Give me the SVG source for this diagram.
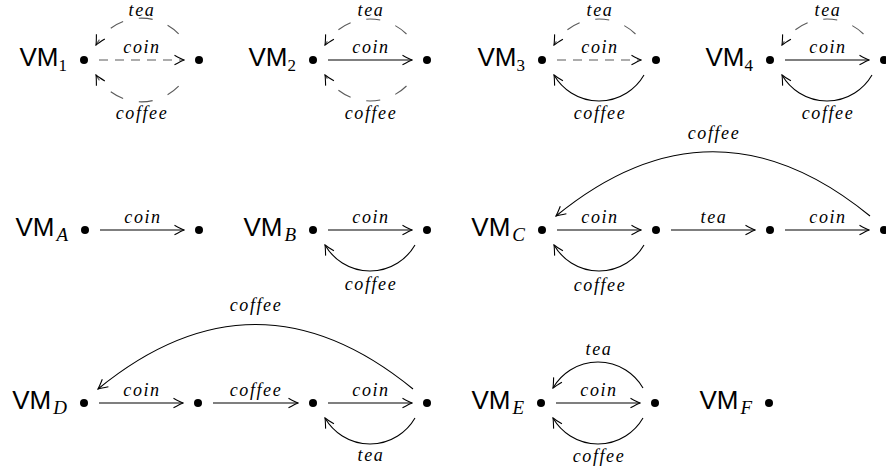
<svg xmlns="http://www.w3.org/2000/svg" width="886" height="471" viewBox="0 0 886 471">
<style>
.vm{font-family:'Liberation Sans',Arial,sans-serif;font-size:26px;fill:#000;text-anchor:end}
.sd{font-family:'Liberation Serif',serif;font-size:17px;font-style:normal}
.sl{font-family:'Liberation Serif',serif;font-size:19px;font-style:italic}
.lb{font-family:'Liberation Serif',serif;font-style:italic;font-size:18px;letter-spacing:1.6px;text-anchor:middle;fill:#000}
.dot{fill:#000}
.e{fill:none;stroke:#000;stroke-width:1.1;marker-end:url(#ah)}
.ds{fill:none;stroke:#5a5a5a;stroke-width:1.1;stroke-dasharray:9 7;marker-end:url(#ah)}
.da{fill:none;stroke:#5a5a5a;stroke-width:1.1;stroke-dasharray:14 16;stroke-dashoffset:16;marker-end:url(#ah)}
</style>
<defs>
<marker id="ah" markerUnits="userSpaceOnUse" viewBox="-11 -6 12 12" markerWidth="12" markerHeight="12" refX="0" refY="0" orient="auto">
<path d="M-9.5,-4.8 Q-3,-1.2 0,0 Q-3,1.2 -9.5,4.8" fill="none" stroke="#000" stroke-width="1.1"/>
</marker>
</defs>

<g id="connectors">
<path class="da" d="M187,45 A52,52 0 0 0 96,45"/>
<path class="ds" d="M99,60 H184"/>
<path class="da" d="M187,75 A52,52 0 0 1 96,75"/>
<path class="da" d="M415,45 A52,52 0 0 0 325,45"/>
<path class="e" d="M328,60 H412"/>
<path class="da" d="M415,75 A52,52 0 0 1 325,75"/>
<path class="da" d="M644,45 A52,52 0 0 0 554,45"/>
<path class="ds" d="M557,60 H641"/>
<path class="e" d="M644,75 A52,52 0 0 1 554,75"/>
<path class="da" d="M872,45 A52,52 0 0 0 782,45"/>
<path class="e" d="M785,60 H869"/>
<path class="e" d="M872,75 A52,52 0 0 1 782,75"/>
<path class="e" d="M100,230 H184"/>
<path class="e" d="M328,230 H412"/>
<path class="e" d="M415,245 A52,52 0 0 1 325,245"/>
<path class="e" d="M557,230 H641"/>
<path class="e" d="M671,230 H755"/>
<path class="e" d="M785,230 H869"/>
<path class="e" d="M644,245 A52,52 0 0 1 554,245"/>
<path class="e" d="M870,216 C765,130 661,130 556,216"/>
<path class="e" d="M99,403 H183"/>
<path class="e" d="M213,403 H298"/>
<path class="e" d="M328,403 H412"/>
<path class="e" d="M415,418 A52,52 0 0 1 325,418"/>
<path class="e" d="M413,389 C308,303 203,303 98,389"/>
<path class="e" d="M643,388 A52,52 0 0 0 553,388"/>
<path class="e" d="M556,403 H640"/>
<path class="e" d="M643,418 A52,52 0 0 1 553,418"/>
</g>

<g id="edge-labels">
<text class="lb" x="142" y="16">tea</text>
<text class="lb" x="142" y="53">coin</text>
<text class="lb" x="142" y="119">coffee</text>
<text class="lb" x="371" y="16">tea</text>
<text class="lb" x="371" y="53">coin</text>
<text class="lb" x="371" y="119">coffee</text>
<text class="lb" x="600" y="16">tea</text>
<text class="lb" x="600" y="53">coin</text>
<text class="lb" x="600" y="119">coffee</text>
<text class="lb" x="828" y="16">tea</text>
<text class="lb" x="828" y="53">coin</text>
<text class="lb" x="828" y="119">coffee</text>
<text class="lb" x="143" y="223">coin</text>
<text class="lb" x="371" y="223">coin</text>
<text class="lb" x="371" y="290">coffee</text>
<text class="lb" x="600" y="223">coin</text>
<text class="lb" x="714" y="223">tea</text>
<text class="lb" x="828" y="223">coin</text>
<text class="lb" x="600" y="291">coffee</text>
<text class="lb" x="714" y="139">coffee</text>
<text class="lb" x="142" y="396">coin</text>
<text class="lb" x="256" y="396">coffee</text>
<text class="lb" x="371" y="396">coin</text>
<text class="lb" x="371" y="461">tea</text>
<text class="lb" x="256" y="311">coffee</text>
<text class="lb" x="599" y="355">tea</text>
<text class="lb" x="599" y="396">coin</text>
<text class="lb" x="599" y="462">coffee</text>
</g>

<g id="vm1"><text class="vm" x="67" y="66">VM<tspan class="sd" dy="5">1</tspan></text><circle class="dot" cx="84" cy="60" r="4"/></g>
<g id="vm1-s1"><circle class="dot" cx="199" cy="60" r="4"/></g>
<g id="vm2"><text class="vm" x="296" y="66">VM<tspan class="sd" dy="5">2</tspan></text><circle class="dot" cx="313" cy="60" r="4"/></g>
<g id="vm2-s1"><circle class="dot" cx="427" cy="60" r="4"/></g>
<g id="vm3"><text class="vm" x="525" y="66">VM<tspan class="sd" dy="5">3</tspan></text><circle class="dot" cx="542" cy="60" r="4"/></g>
<g id="vm3-s1"><circle class="dot" cx="656" cy="60" r="4"/></g>
<g id="vm4"><text class="vm" x="753" y="66">VM<tspan class="sd" dy="5">4</tspan></text><circle class="dot" cx="770" cy="60" r="4"/></g>
<g id="vm4-s1"><circle class="dot" cx="884" cy="60" r="4"/></g>

<g id="vmA"><text class="vm" x="68" y="236">VM<tspan class="sl" dx="2" dy="5">A</tspan></text><circle class="dot" cx="85" cy="230" r="4"/></g>
<g id="vmA-s1"><circle class="dot" cx="199" cy="230" r="4"/></g>
<g id="vmB"><text class="vm" x="296" y="236">VM<tspan class="sl" dx="2" dy="5">B</tspan></text><circle class="dot" cx="313" cy="230" r="4"/></g>
<g id="vmB-s1"><circle class="dot" cx="427" cy="230" r="4"/></g>
<g id="vmC"><text class="vm" x="525" y="236">VM<tspan class="sl" dx="2" dy="5">C</tspan></text><circle class="dot" cx="542" cy="230" r="4"/></g>
<g id="vmC-s1"><circle class="dot" cx="656" cy="230" r="4"/></g>
<g id="vmC-s2"><circle class="dot" cx="770" cy="230" r="4"/></g>
<g id="vmC-s3"><circle class="dot" cx="884" cy="230" r="4"/></g>

<g id="vmD"><text class="vm" x="67" y="409">VM<tspan class="sl" dx="2" dy="5">D</tspan></text><circle class="dot" cx="84" cy="403" r="4"/></g>
<g id="vmD-s1"><circle class="dot" cx="198" cy="403" r="4"/></g>
<g id="vmD-s2"><circle class="dot" cx="313" cy="403" r="4"/></g>
<g id="vmD-s3"><circle class="dot" cx="427" cy="403" r="4"/></g>
<g id="vmE"><text class="vm" x="524" y="409">VM<tspan class="sl" dx="2" dy="5">E</tspan></text><circle class="dot" cx="541" cy="403" r="4"/></g>
<g id="vmE-s1"><circle class="dot" cx="655" cy="403" r="4"/></g>
<g id="vmF"><text class="vm" x="752" y="409">VM<tspan class="sl" dx="2" dy="5">F</tspan></text><circle class="dot" cx="769" cy="403" r="4"/></g>
</svg>
